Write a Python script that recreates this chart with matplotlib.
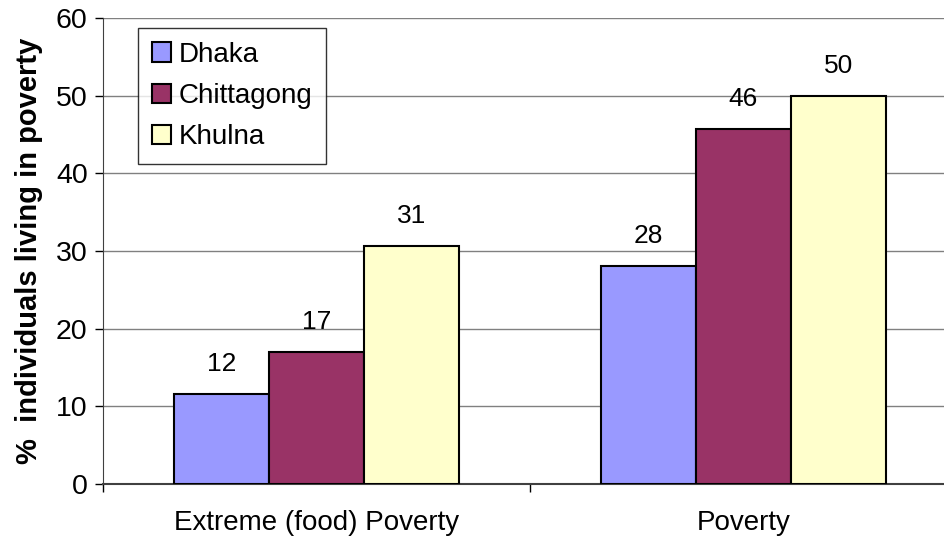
import numpy as np
import matplotlib.pyplot as plt

plt.rcParams['font.family'] = ['Liberation Sans', 'DejaVu Sans']

# Datos
categorias = ['Extreme (food) Poverty', 'Poverty']
ciudades = ['Dhaka', 'Chittagong', 'Khulna']
dhaka = [11.6, 28.1]
chittagong = [17.0, 45.7]
khulna = [30.6, 50.0]
etiquetas = [['12', '28'], ['17', '46'], ['31', '50']]

colores = ['#9999FF', '#993366', '#FFFFCC']
series = [dhaka, chittagong, khulna]

fig = plt.figure(figsize=(9.45, 5.42), dpi=100)
ax = fig.add_axes([103 / 945, 1 - 484 / 542, (945 - 103) / 945, (484 - 18) / 542])

x = np.arange(len(categorias))
w = 0.222
for i, (vals, col, nombre) in enumerate(zip(series, colores, ciudades)):
    pos = x + (i - 1) * w
    ax.bar(pos, vals, width=w, color=col, edgecolor='black', linewidth=1.5,
           label=nombre, zorder=3)
    for p, v, t in zip(pos, vals, etiquetas[i]):
        ax.text(p, v + 2.3, t, ha='center', va='bottom', fontsize=19)

ax.set_ylim(0, 60)
ax.set_yticks(np.arange(0, 61, 10))
ax.set_xlim(-0.5, 1.472)
ax.set_xticks([-0.5, 0.5])
ax.set_xticklabels([])
ax.tick_params(axis='x', length=6, width=1, direction='out')
ax.tick_params(axis='y', length=6, width=1, direction='out', labelsize=20.5, pad=5)
for c, lab in zip(x, categorias):
    ax.text(c, -3.4, lab, ha='center', va='top', fontsize=20)

ax.grid(axis='y', color='#808080', linewidth=1, zorder=0)
ax.spines['top'].set_visible(False)
ax.spines['right'].set_visible(False)
ax.spines['left'].set_color('#404040')
ax.spines['bottom'].set_color('#404040')
ax.spines['bottom'].set_linewidth(1.5)

ax.set_ylabel('%  individuals living in poverty', fontsize=21, fontweight='bold', labelpad=9)

leg = ax.legend(loc='upper left', bbox_to_anchor=(35 / 842, 1 - 10 / 466), fontsize=20,
                frameon=True, fancybox=False, edgecolor='black', handlelength=0.7,
                handleheight=0.7, handletextpad=0.25, labelspacing=0.55, borderpad=0.5,
                borderaxespad=0)
leg.get_frame().set_linewidth(1)
leg.set_zorder(5)

plt.savefig('out.png', dpi=100)
